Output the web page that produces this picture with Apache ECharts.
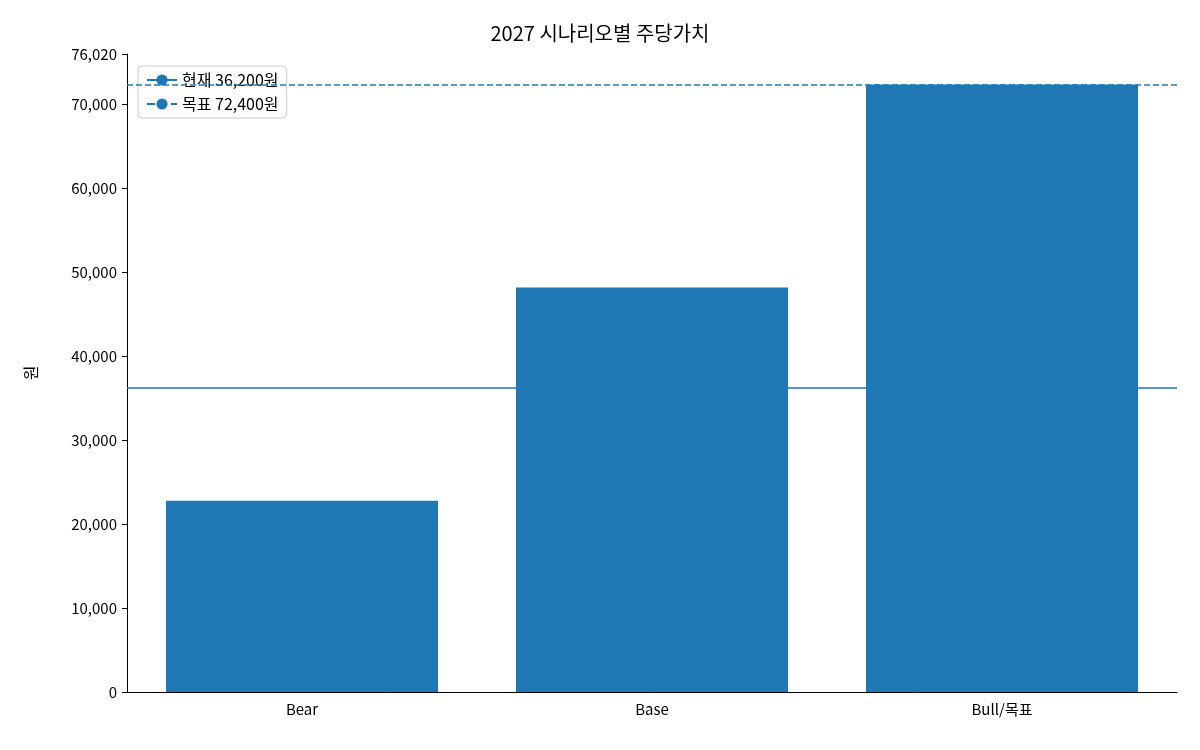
<!DOCTYPE html>
<html><head><meta charset="utf-8">
<script src="https://cdn.jsdelivr.net/npm/echarts@6/dist/echarts.min.js"></script>
<style>body{margin:0}#c{width:1200px;height:750px}</style></head>
<body><div id="c"></div>
<script>
const categories = ['Bear', 'Base', 'Bull/목표'];
const values = [22800, 48200, 72400];
const currentPrice = 36200;
const targetPrice = 72400;
const C = '#1f77b4';
const F = 'Noto Sans CJK KR';
const chart = echarts.init(document.getElementById('c'));
function lineSeries(name, val, type) {
  return {
    name, type: 'line', data: [], symbol: 'none',
    lineStyle: { color: C, width: 1.5, type },
    itemStyle: { color: C },
    markLine: { silent: true, symbol: 'none', label: { show: false },
      lineStyle: { color: C, width: 1.5, type }, data: [{ yAxis: val }] }
  };
}
chart.setOption({
  textStyle: { fontFamily: F },
  title: { text: '2027 시나리오별 주당가치', left: 'center', top: 18,
    textStyle: { fontFamily: F, fontSize: 20, fontWeight: 'normal', color: '#000' } },
  grid: { left: 127, right: 23, top: 54, bottom: 58 },
  legend: { left: 138, top: 66, orient: 'vertical', itemWidth: 30, itemGap: 8,
    backgroundColor: '#fff', borderColor: '#ccc', borderWidth: 1, borderRadius: 4,
    padding: [6, 8], textStyle: { fontFamily: F, fontSize: 16, color: '#000' },
    data: ['현재 36,200원', '목표 72,400원'] },
  xAxis: { type: 'category', data: categories,
    axisLine: { lineStyle: { color: '#000' } },
    axisTick: { alignWithLabel: true, lineStyle: { color: '#000' } },
    axisLabel: { color: '#000', fontSize: 15, fontFamily: F, margin: 10 } },
  yAxis: { type: 'value', min: 0, max: 76020, interval: 10000,
    name: '원', nameLocation: 'middle', nameGap: 88, nameRotate: 90,
    nameTextStyle: { color: '#000', fontSize: 16, fontFamily: F },
    splitLine: { show: false },
    axisLine: { show: true, lineStyle: { color: '#000' } },
    axisTick: { show: true, lineStyle: { color: '#000' } },
    axisLabel: { color: '#000', fontSize: 15, fontFamily: F, margin: 10 } },
  series: [
    { type: 'bar', data: values, barWidth: 272, itemStyle: { color: C }, silent: true },
    lineSeries('현재 36,200원', currentPrice, 'solid'),
    lineSeries('목표 72,400원', targetPrice, 'dashed')
  ]
});
</script></body></html>
